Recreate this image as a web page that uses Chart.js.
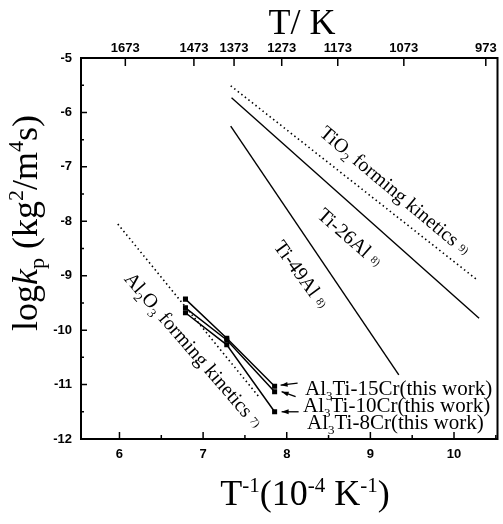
<!DOCTYPE html>
<html>
<head>
<meta charset="utf-8">
<script src="https://cdn.jsdelivr.net/npm/chart.js@4/dist/chart.umd.min.js"></script>
<style>
  html, body { margin: 0; padding: 0; background: #fff; }
  #wrap { width: 503px; height: 524px; }
</style>
</head>
<body>
<div id="wrap"><canvas id="grafica" width="503" height="524"></canvas></div>
<script>
// Datos: T^-1 (10^-4 K^-1) de los ensayos (1473, 1373, 1273 K)
const invT = [6.789, 7.283, 7.855];
const cr15 = [-9.43, -10.15, -11.03];
const cr10 = [-9.59, -10.18, -11.13];
const cr8 = [-9.68, -10.27, -11.50];

// Rectas de referencia (extremos)
const tio2X = [7.33, 10.28];
const tio2Y = [-5.51, -9.08];
const ti26X = [7.34, 10.30];
const ti26Y = [-5.73, -9.78];
const ti49X = [7.33, 9.34];
const ti49Y = [-6.25, -10.82];
const al2o3X = [5.98, 7.68];
const al2o3Y = [-8.05, -11.25];

// Ejes
const xTicks = [6, 7, 8, 9, 10];
const xMinor = [5.5, 6.5, 7.5, 8.5, 9.5, 10.5];
const yTicks = [-5, -6, -7, -8, -9, -10, -11, -12];
const yMinor = [-5.5, -6.5, -7.5, -8.5, -9.5, -10.5, -11.5];
const topLabels = ['1673', '1473', '1373', '1273', '1173', '1073', '973'];
const topPos = [6.07, 6.89, 7.37, 7.94, 8.61, 9.40, 10.38];

const pts = (xs, ys) => xs.map((x, i) => ({ x: x, y: ys[i] }));

const SERIF = '"Liberation Serif", "DejaVu Serif", serif';
const SANS = '"Liberation Sans", Arial, sans-serif';

function seg(t, size, dy, italic) {
    return { t: t, font: (italic ? 'italic ' : '') + size + 'px ' + SERIF, dy: dy || 0 };
}
function richWidth(ctx, parts) {
    let w = 0;
    parts.forEach(p => { ctx.font = p.font; w += ctx.measureText(p.t).width; });
    return w;
}
function drawRich(ctx, parts, x, y) {
    parts.forEach(p => {
        ctx.font = p.font;
        ctx.fillText(p.t, x, y + p.dy);
        x += ctx.measureText(p.t).width;
    });
}

// Etiquetas giradas sobre las rectas (centro en coordenadas de datos, angulo en grados)
const notas = [
    { x: 9.30, y: -7.43, ang: 40, parts: [seg('TiO', 20), seg('2', 13, 5), seg(' forming kinetics', 20), seg('  9)', 11, -2)] },
    { x: 8.76, y: -8.29, ang: 41, parts: [seg('Ti-26Al', 20), seg('  8)', 11, -2)] },
    { x: 8.18, y: -8.97, ang: 54, parts: [seg('Ti-49Al', 20), seg('  8)', 11, -2)] },
    { x: 6.89, y: -10.36, ang: 49, parts: [seg('Al', 20), seg('2', 13, 5), seg('O', 20), seg('3', 13, 5), seg(' forming kinetics', 20), seg('  7)', 11, -2)] }
];

// Leyenda con flechas: punta y cola relativas al punto, texto
const leyenda = [
    { serie: cr15, tip: [6, -1], tail: [23, -3], tx: 305, ty: 395, parts: [seg('Al', 21), seg('3', 13, 5), seg('Ti-15Cr(this work)', 21)] },
    { serie: cr10, tip: [7, 0], tail: [21, 5], tx: 303, ty: 412, parts: [seg('Al', 21), seg('3', 13, 5), seg('Ti-10Cr(this work)', 21)] },
    { serie: cr8, tip: [7, 0], tail: [24, 0], tx: 307, ty: 429, parts: [seg('Al', 21), seg('3', 13, 5), seg('Ti-8Cr(this work)', 21)] }
];

function arrow(ctx, x0, y0, x1, y1) {
    const a = Math.atan2(y1 - y0, x1 - x0);
    ctx.beginPath();
    ctx.moveTo(x0, y0);
    ctx.lineTo(x1, y1);
    ctx.stroke();
    ctx.beginPath();
    ctx.moveTo(x1, y1);
    ctx.lineTo(x1 - 7 * Math.cos(a) + 2.5 * Math.sin(a), y1 - 7 * Math.sin(a) - 2.5 * Math.cos(a));
    ctx.lineTo(x1 - 7 * Math.cos(a) - 2.5 * Math.sin(a), y1 - 7 * Math.sin(a) + 2.5 * Math.cos(a));
    ctx.closePath();
    ctx.fill();
}

const extras = {
    id: 'extras',
    afterDraw(chart) {
        const ctx = chart.ctx;
        const a = chart.chartArea;
        const xs = chart.scales.x, ys = chart.scales.y, xt = chart.scales.x2;
        ctx.save();
        ctx.strokeStyle = '#000';
        ctx.fillStyle = '#000';

        // marco
        ctx.lineWidth = 2;
        ctx.strokeRect(a.left, a.top, a.right - a.left, a.bottom - a.top);

        // marcas hacia dentro
        ctx.lineWidth = 1.5;
        ctx.beginPath();
        xTicks.forEach(v => { const p = xs.getPixelForValue(v); ctx.moveTo(p, a.bottom); ctx.lineTo(p, a.bottom - 7); });
        xMinor.forEach(v => { const p = xs.getPixelForValue(v); if (p > a.left && p < a.right) { ctx.moveTo(p, a.bottom); ctx.lineTo(p, a.bottom - 4); } });
        yTicks.forEach(v => { const p = ys.getPixelForValue(v); ctx.moveTo(a.left, p); ctx.lineTo(a.left + 6, p); });
        yMinor.forEach(v => { const p = ys.getPixelForValue(v); ctx.moveTo(a.left, p); ctx.lineTo(a.left + 3, p); });
        topPos.forEach(v => { const p = xt.getPixelForValue(v); ctx.moveTo(p, a.top); ctx.lineTo(p, a.top + 8); });
        ctx.stroke();

        // titulos
        ctx.textBaseline = 'alphabetic';
        const tTop = [seg('T/ K', 36)];
        drawRich(ctx, tTop, 302 - richWidth(ctx, tTop) / 2, 34);
        const tBot = [seg('T', 36), seg('-1', 21, -13), seg('(10', 36), seg('-4', 21, -13), seg(' K', 36), seg('-1', 21, -13), seg(')', 36)];
        drawRich(ctx, tBot, 305 - richWidth(ctx, tBot) / 2, 505);
        const tY = [seg('log', 36), seg('k', 36, 0, true), seg('p', 22, 7), seg(' (kg', 36), seg('2', 22, -14), seg('/m', 36), seg('4', 22, -14), seg('s)', 36)];
        ctx.save();
        ctx.translate(37, 223);
        ctx.rotate(-Math.PI / 2);
        drawRich(ctx, tY, -richWidth(ctx, tY) / 2, 0);
        ctx.restore();

        // notas giradas
        notas.forEach(n => {
            ctx.save();
            ctx.translate(xs.getPixelForValue(n.x), ys.getPixelForValue(n.y));
            ctx.rotate(n.ang * Math.PI / 180);
            drawRich(ctx, n.parts, -richWidth(ctx, n.parts) / 2, 7);
            ctx.restore();
        });

        // leyenda con flechas
        ctx.lineWidth = 1.3;
        leyenda.forEach(l => {
            const px = xs.getPixelForValue(invT[2]);
            const py = ys.getPixelForValue(l.serie[2]);
            arrow(ctx, px + l.tail[0], py + l.tail[1], px + l.tip[0], py + l.tip[1]);
            drawRich(ctx, l.parts, l.tx, l.ty);
        });
        ctx.restore();
    }
};

const lineaRef = (data, dashed) => ({
    data: data,
    borderColor: '#000',
    borderWidth: dashed ? 1.6 : 1.4,
    borderDash: dashed ? [1.5, 3] : [],
    pointRadius: 0,
    fill: false,
    tension: 0
});
const lineaDatos = (data) => ({
    data: data,
    borderColor: '#000',
    backgroundColor: '#000',
    borderWidth: 1.5,
    pointStyle: 'rect',
    pointRadius: 2.5,
    fill: false,
    tension: 0
});

const tickFont = { family: SANS, size: 13, weight: 'bold' };
const sinRejilla = { display: false, drawTicks: false, tickLength: 0 };

const ctxG = document.getElementById('grafica').getContext('2d');
const grafica = new Chart(ctxG, {
    type: 'line',
    data: {
        datasets: [
            lineaRef(pts(tio2X, tio2Y), true),
            lineaRef(pts(ti26X, ti26Y), false),
            lineaRef(pts(ti49X, ti49Y), false),
            lineaRef(pts(al2o3X, al2o3Y), true),
            lineaDatos(pts(invT, cr15)),
            lineaDatos(pts(invT, cr10)),
            lineaDatos(pts(invT, cr8))
        ]
    },
    options: {
        responsive: false,
        animation: false,
        layout: { padding: { right: 1, left: 0, top: 0, bottom: 0 } },
        plugins: { legend: { display: false }, tooltip: { enabled: false } },
        scales: {
            x: {
                type: 'linear', position: 'bottom', min: 5.54, max: 10.52,
                grid: sinRejilla, border: { display: false },
                afterBuildTicks: s => { s.ticks = xTicks.map(v => ({ value: v })); },
                afterFit: s => { s.height = 85; },
                ticks: { autoSkip: false, maxRotation: 0, padding: 8, color: '#000', font: tickFont, callback: v => String(v) }
            },
            x2: {
                type: 'linear', position: 'top', min: 5.54, max: 10.52,
                grid: sinRejilla, border: { display: false },
                afterBuildTicks: s => { s.ticks = topPos.map(v => ({ value: v })); },
                afterFit: s => { s.height = 58; },
                ticks: { autoSkip: false, maxRotation: 0, padding: 2, color: '#000', font: tickFont,
                    callback: (v, i) => topLabels[i] }
            },
            y: {
                type: 'linear', min: -12, max: -5,
                grid: sinRejilla, border: { display: false },
                afterBuildTicks: s => { s.ticks = yTicks.map(v => ({ value: v })); },
                afterFit: s => { s.width = 81; },
                ticks: { autoSkip: false, padding: 9, color: '#000', font: tickFont, callback: v => String(v) }
            }
        }
    },
    plugins: [extras]
});
</script>
</body>
</html>
